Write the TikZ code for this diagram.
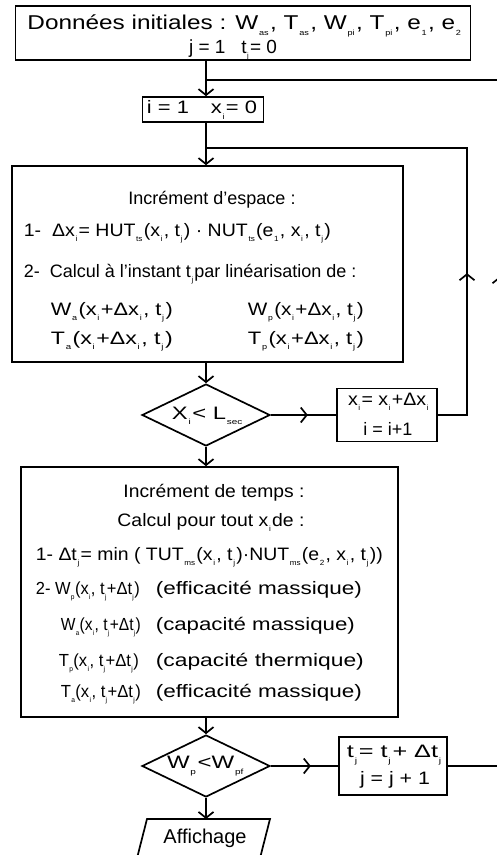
\documentclass[tikz,border=0pt]{standalone}
\usepackage{graphicx}
\usepackage{fontspec}
\setmainfont{Liberation Sans}
\usetikzlibrary{arrows.meta,decorations.markings,shapes.geometric}
\newcommand{\sbs}[1]{\kern0.6pt\raisebox{-0.3em}{\fontsize{7.5}{7.5}\selectfont #1}\kern1.2pt}
\newcommand{\sbt}[1]{\kern0.3pt\raisebox{-0.3em}{\fontsize{7}{7}\selectfont #1}\kern0.5pt}
\newcommand{\fitw}[2]{\resizebox{#1}{\height}{#2}}
\tikzset{
  >={Straight Barb[length=6pt,width=15pt]},
  box/.style={draw, rectangle, inner sep=0pt},
  txt/.style={inner sep=0pt, font=\fontsize{18}{24}\selectfont},
  ftx/.style={inner sep=0pt, font=\fontsize{17.5}{24}\selectfont},
  dia/.style={draw, diamond, aspect=2, inner sep=0pt, minimum width=128pt, minimum height=62pt},
  marrow/.style={postaction={decorate}, decoration={markings, mark=at position #1 with {\arrow{>}}}}
}
\begin{document}
\begin{tikzpicture}[x=1pt,y=-1pt,line width=1.7pt]
\useasboundingbox (0,0) rectangle (497,855);
% boxes
\node[box, minimum width=455pt, minimum height=54pt] (b1) at (243,33) {};
\node[txt, anchor=base, font=\fontsize{20}{24}\selectfont] (t1) at (245,29) {\fitw{435pt}{Données initiales : W\sbs{as}, T\sbs{as}, W\sbs{pi}, T\sbs{pi}, e\sbs{1}, e\sbs{2}}};
\node[txt, anchor=base, font=\fontsize{19}{24}\selectfont] (t2) at (233,53) {j = 1\ \ \ t\sbs{j} = 0};
\coordinate (j1) at (206,80);
\coordinate (j2) at (206,148);
\node[box, minimum width=121pt, minimum height=25pt] (b2) at (203,109.5) {};
\node[txt] (t3) at (202,110) {\fitw{110pt}{i = 1\quad x\sbs{i} = 0}};
\node[box, minimum width=391pt, minimum height=196pt] (b3) at (207.5,264) {};
\node[txt, anchor=base] (r31) at (212,204) {Incrément d'espace :};
\node[txt, anchor=base west] (r32) at (23,236) {\fitw{307pt}{1-\ \ Δx\sbs{i} = HUT\sbs{ts}(x\sbs{i}, t\sbs{j} ) · NUT\sbs{ts}(e\sbs{1}, x\sbs{i}, t\sbs{j})}};
\node[txt, anchor=base west] (r33) at (23,277) {2-\ \ Calcul à l'instant t\sbs{j} par linéarisation de :};
\node[txt, anchor=base west] (r34) at (50,315) {\fitw{122pt}{W\sbs{a}(x\sbs{i}+Δx\sbs{i} , t\sbs{j} )}};
\node[txt, anchor=base west] (r35) at (247,315) {\fitw{116pt}{W\sbs{p}(x\sbs{i}+Δx\sbs{i} , t\sbs{j} )}};
\node[txt, anchor=base west] (r36) at (50,344) {\fitw{122pt}{T\sbs{a}(x\sbs{i}+Δx\sbs{i} , t\sbs{j} )}};
\node[txt, anchor=base west] (r37) at (247,344) {\fitw{116pt}{T\sbs{p}(x\sbs{i}+Δx\sbs{i} , t\sbs{j} )}};
\node[dia] (d1) at (206,415) {};
\node[txt] (dt1) at (208,416) {\fitw{72pt}{X\sbs{i} < L\sbs{sec}}};
\node[box, minimum width=100pt, minimum height=53pt] (b4) at (387,415) {};
\node[txt] (r41) at (389,402) {\fitw{82pt}{x\sbs{i} = x\sbs{i}+Δx\sbs{i}}};
\node[txt] (r42) at (388,429) {i = i+1};
\node[box, minimum width=377pt, minimum height=250pt] (b5) at (209.5,592) {};
\node[txt, anchor=base] (r51) at (214,497) {\fitw{181pt}{Incrément de temps :}};
\node[txt, anchor=base] (r52) at (211,526) {\fitw{187pt}{Calcul pour tout x\sbs{i} de :}};
\node[txt, anchor=base west] (r53) at (35,560) {\fitw{347pt}{1- Δt\sbs{j} = min ( TUT\sbs{ms}(x\sbs{i}, t\sbs{j})·NUT\sbs{ms}(e\sbs{2}, x\sbs{i}, t\sbs{j}))}};
\node[ftx, anchor=base west] (r54) at (35,594) {\fitw{104pt}{2- W\sbt{p}(x\sbt{i}, t\sbt{j}+Δt\sbt{j})}};
\node[txt, anchor=base west] (r55) at (155,594) {\fitw{206pt}{(efficacité massique)}};
\node[ftx, anchor=base west] (r56) at (60,630) {\fitw{80pt}{W\sbt{a}(x\sbt{i}, t\sbt{j}+Δt\sbt{j})}};
\node[txt, anchor=base west] (r57) at (155,630) {\fitw{199pt}{(capacité massique)}};
\node[ftx, anchor=base west] (r58) at (58,666) {\fitw{80pt}{T\sbt{p}(x\sbt{i}, t\sbt{j}+Δt\sbt{j})}};
\node[txt, anchor=base west] (r59) at (155,666) {\fitw{208pt}{(capacité thermique)}};
\node[ftx, anchor=base west] (r510) at (60,697) {\fitw{80pt}{T\sbt{a} (x\sbt{i}, t\sbt{j}+Δt\sbt{j})}};
\node[txt, anchor=base west] (r511) at (155,697) {\fitw{206pt}{(efficacité massique)}};
\node[dia] (d2) at (206,766) {};
\node[txt] (dt2) at (206,766) {\fitw{78pt}{W\sbs{p}<W\sbs{pf}}};
\node[box, minimum width=108pt, minimum height=58pt] (b6) at (393,766) {};
\node[txt] (r61) at (395,755) {\fitw{96pt}{t\sbs{j} = t\sbs{j} + Δt\sbs{j}}};
\node[txt] (r62) at (395,780) {\fitw{70pt}{j = j + 1}};
% output parallelogram
\coordinate (ptop) at (206,819);
\draw (147,819) -- (270,819) -- (258,866) -- (135,866) -- cycle;
\node[txt, font=\fontsize{20}{24}\selectfont] (aff) at (205,838) {Affichage};
% connectors
\draw[->] (b1.south -| j1) -- (j1 |- b2.north);
\draw[->] (j2 |- b2.south) -- (j2 |- b3.north);
\draw[->] (b3.south -| d1) -- (d1.north);
\draw[marrow=37pt] (d1.east) -- (b4.west);
\draw[marrow=171pt] (b4.east) -- (467,415) -- (467,148) -- (j2);
\draw[->] (d1.south) -- (d1.south |- b5.north);
\draw[->] (b5.south -| d2) -- (d2.north);
\draw[marrow=40pt] (d2.east) -- (b6.west);
\draw[marrow=542pt] (b6.east) -- (500,766) -- (500,80) -- (j1);
\draw[->] (d2.south) -- (ptop);
\end{tikzpicture}
\end{document}
